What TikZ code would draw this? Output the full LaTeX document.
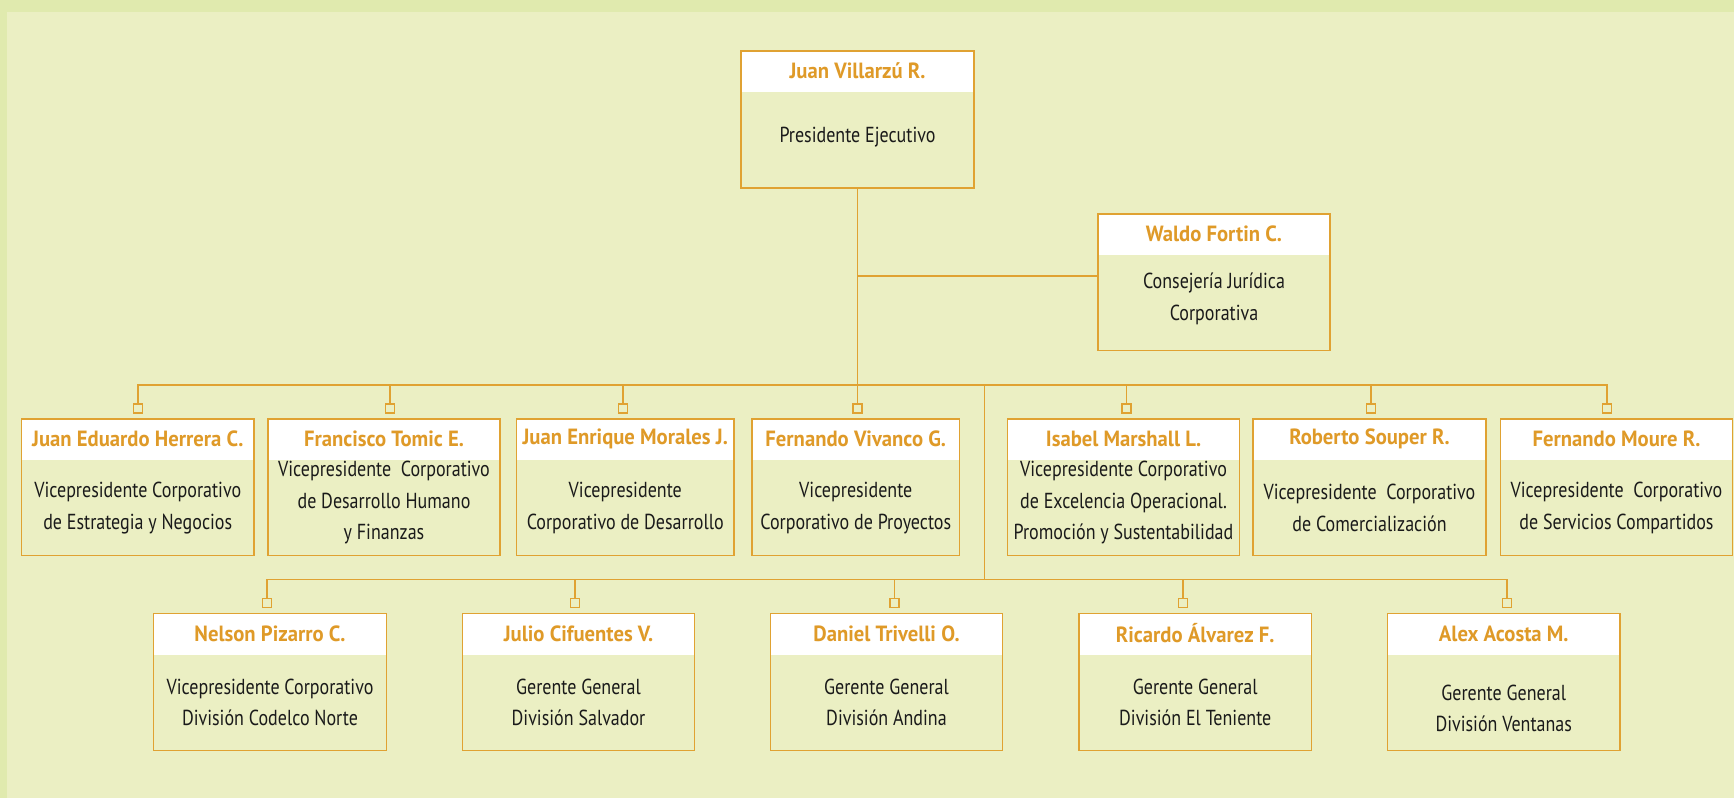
\documentclass[tikz,border=0pt]{standalone}
\usepackage{fontspec}
\usetikzlibrary{fit,calc}
\newfontfamily\titlef{PT Sans}[FakeStretch=0.83]
\newfontfamily\namef{PT Sans}[FakeStretch=0.94]
\definecolor{outerbg}{HTML}{E0EAAE}
\definecolor{panel}{HTML}{EBEFC3}
\definecolor{lineor}{HTML}{E0A232}
\definecolor{nameor}{HTML}{DF9A28}
\definecolor{titlek}{HTML}{1A1A1A}
\tikzset{
  boxsty/.style={draw=lineor, line width=0.75pt, inner sep=0pt},
  namesty/.style={font=\namef\bfseries\fontsize{11}{13}\selectfont, text=nameor, inner sep=0pt},
  titlesty/.style={font=\titlef\fontsize{10.85}{15.85}\selectfont, align=center, inner sep=0pt, text=titlek},
  conn/.style={draw=lineor, line width=0.75pt},
  sq/.style={draw=lineor, line width=0.6pt, minimum size=4.5pt, inner sep=0pt},
}
% id, left, top, right, bottom, name, title, title y-offset
\newcommand\orgbox[8]{%
  \fill[white] (#2,#3) rectangle (#4,#3+41);
  \node[boxsty, fit={(#2,#3) (#4,#5)}] (#1) {};
  \node[namesty] (#1n) at ({(#2+#4)/2},{#3+20}) {#6};
  \node[titlesty] (#1t) at ({(#2+#4)/2},{(#3+41+#5)/2+#8}) {#7};
}
\begin{document}
\begin{tikzpicture}[x=0.5pt,y=-0.5pt]
\fill[outerbg] (0,0) rectangle (1734,798);
\fill[panel] (7,12) rectangle (1734,798);
\useasboundingbox (0,0) rectangle (1734,798);

% top
\orgbox{pres}{741}{51}{974}{188}{Juan Villarzú R.}{Presidente Ejecutivo}{-3}
\orgbox{waldo}{1098}{214}{1330}{350.5}{Waldo Fortin C.}{Consejería Jurídica\\Corporativa}{-4}

% row 1
\orgbox{a1}{21.5}{419}{254}{555.5}{Juan Eduardo Herrera C.}{Vicepresidente Corporativo\\de Estrategia y Negocios}{0}
\orgbox{a2}{268}{419}{500}{555.5}{Francisco Tomic E.}{Vicepresidente\ \ Corporativo\\de Desarrollo Humano\\y Finanzas}{-5}
\orgbox{a3}{516.5}{419}{734}{555.5}{Juan Enrique Morales J.}{Vicepresidente\\Corporativo de Desarrollo}{0}
\orgbox{a4}{752}{419}{959.5}{555.5}{Fernando Vivanco G.}{Vicepresidente\\Corporativo de Proyectos}{0}
\orgbox{a5}{1007.5}{419}{1239.5}{555.5}{Isabel Marshall L.}{Vicepresidente Corporativo\\de Excelencia Operacional.\\Promoción y Sustentabilidad}{-5}
\orgbox{a6}{1253}{419}{1486}{555.5}{Roberto Souper R.}{Vicepresidente\ \ Corporativo\\de Comercialización}{0}
\orgbox{a7}{1500.5}{419}{1732.5}{555.5}{Fernando Moure R.}{Vicepresidente\ \ Corporativo\\de Servicios Compartidos}{0}

% row 2
\orgbox{b1}{153.5}{613.5}{386.5}{750.5}{Nelson Pizarro C.}{Vicepresidente Corporativo\\División Codelco Norte}{0}
\orgbox{b2}{462.5}{613.5}{694.5}{750.5}{Julio Cifuentes V.}{Gerente General\\División Salvador}{0}
\orgbox{b3}{770.5}{613.5}{1002.5}{750.5}{Daniel Trivelli O.}{Gerente General\\División Andina}{0}
\orgbox{b4}{1079}{613.5}{1311.5}{750.5}{Ricardo Álvarez F.}{Gerente General\\División El Teniente}{0}
\orgbox{b5}{1387.5}{613.5}{1620}{750.5}{Alex Acosta M.}{Gerente General\\División Ventanas}{6}

% squares
\node[sq] (s1) at (138,408.5) {};
\node[sq] (s2) at (390,408.5) {};
\node[sq] (s3) at (623,408.5) {};
\node[sq] (s4) at (857.5,408.5) {};
\node[sq] (s5) at (1126.5,408.5) {};
\node[sq] (s6) at (1371,408.5) {};
\node[sq] (s7) at (1607,408.5) {};
\node[sq] (t1) at (267,603) {};
\node[sq] (t2) at (575,603) {};
\node[sq] (t3) at (894.5,603) {};
\node[sq] (t4) at (1183,603) {};
\node[sq] (t5) at (1507,603) {};

\coordinate (bus1) at (0,385);
\coordinate (bus2) at (0,579.5);
\coordinate (wj) at (857.5,276);
\coordinate (j1) at (984.5,385);

% connectors
\draw[conn] (pres.south) -- (s4.north);
\draw[conn] (wj) -- (wj -| waldo.west);
\draw[conn] (s1.north) |- (s7.north |- bus1) -- (s7.north);
\foreach \s in {s2,s3,s5,s6} \draw[conn] (\s.north) -- (\s.north |- bus1);
\draw[conn] (j1) -- (j1 |- bus2);
\draw[conn] (t1.north) |- (t5.north |- bus2) -- (t5.north);
\foreach \s in {t2,t3,t4} \draw[conn] (\s.north) -- (\s.north |- bus2);
\end{tikzpicture}
\end{document}
